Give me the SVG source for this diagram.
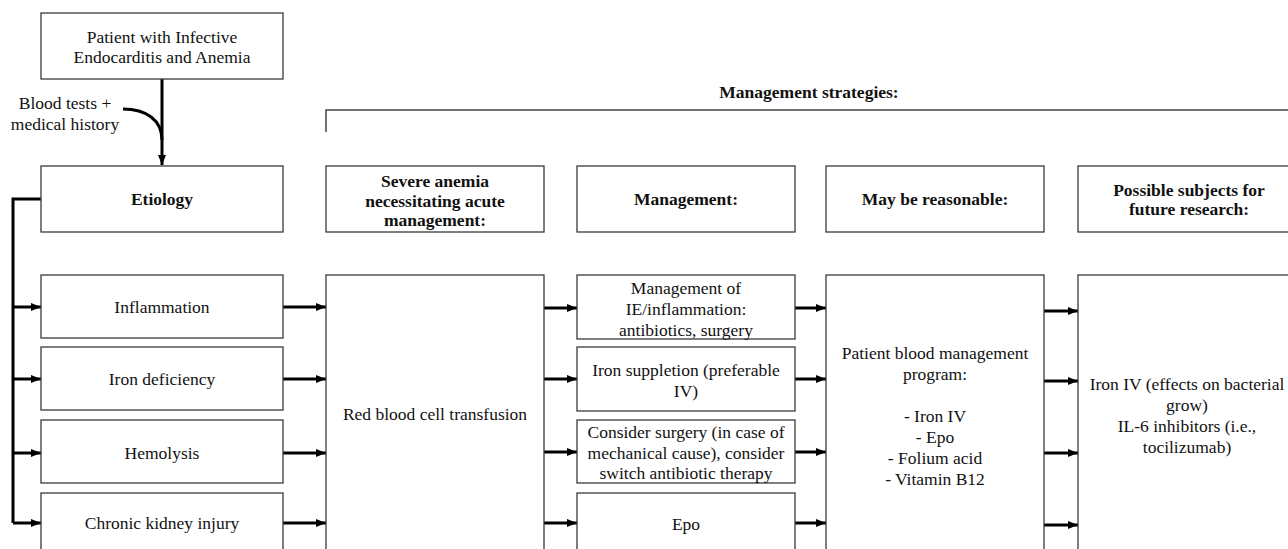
<svg xmlns="http://www.w3.org/2000/svg" width="1288" height="549" viewBox="0 0 1288 549">
<style>
  .box{fill:#fff;stroke:#3a3a3a;stroke-width:1.3}
  text{font-family:'Liberation Serif','Times New Roman',Tinos,'DejaVu Serif',serif;font-size:17.5px;fill:#111;text-anchor:middle}
  .b{font-weight:bold}
  .c{fill:none;stroke:#000;stroke-width:3}
</style>
<defs>
  <marker id="ah" markerUnits="userSpaceOnUse" markerWidth="10" markerHeight="10" viewBox="0 0 10 10" refX="10" refY="5" orient="auto">
    <path d="M0,1 L10,5 L0,9 Z" fill="#000"/>
  </marker>
</defs>
<rect width="1288" height="549" fill="#fff"/>

<g id="connectors">
  <path class="c" d="M162,79 L162,165" marker-end="url(#ah)"/>
  <path class="c" d="M123,109 C146,109 162,120 162,140"/>
  <path class="c" d="M41,199 L13,199 L13,523"/>
  <path class="c" d="M13,307 L41,307" marker-end="url(#ah)"/>
  <path class="c" d="M13,379 L41,379" marker-end="url(#ah)"/>
  <path class="c" d="M13,453 L41,453" marker-end="url(#ah)"/>
  <path class="c" d="M13,523 L41,523" marker-end="url(#ah)"/>
  <path class="c" d="M283,307 L326,307" marker-end="url(#ah)"/>
  <path class="c" d="M283,379 L326,379" marker-end="url(#ah)"/>
  <path class="c" d="M283,453 L326,453" marker-end="url(#ah)"/>
  <path class="c" d="M283,523 L326,523" marker-end="url(#ah)"/>
  <path class="c" d="M544,308 L577,308" marker-end="url(#ah)"/>
  <path class="c" d="M544,379 L577,379" marker-end="url(#ah)"/>
  <path class="c" d="M544,452 L577,452" marker-end="url(#ah)"/>
  <path class="c" d="M544,523 L577,523" marker-end="url(#ah)"/>
  <path class="c" d="M795,308 L826,308" marker-end="url(#ah)"/>
  <path class="c" d="M795,379 L826,379" marker-end="url(#ah)"/>
  <path class="c" d="M795,452 L826,452" marker-end="url(#ah)"/>
  <path class="c" d="M795,523 L826,523" marker-end="url(#ah)"/>
  <path class="c" d="M1044,311 L1078,311" marker-end="url(#ah)"/>
  <path class="c" d="M1044,381 L1078,381" marker-end="url(#ah)"/>
  <path class="c" d="M1044,453 L1078,453" marker-end="url(#ah)"/>
  <path class="c" d="M1044,525 L1078,525" marker-end="url(#ah)"/>
</g>

<text x="65" y="109">Blood tests +</text>
<text x="65" y="130">medical history</text>

<g id="strategies">
  <text class="b" x="809" y="98">Management strategies:</text>
  <path d="M326,132 L326,110 L1288,110" fill="none" stroke="#444" stroke-width="1.5"/>
</g>

<g id="patient"><rect class="box" x="41" y="13" width="242" height="66"/>
  <text x="162" y="43">Patient with Infective</text>
  <text x="162" y="63">Endocarditis and Anemia</text></g>

<g id="etiology"><rect class="box" x="41" y="166" width="242" height="66"/>
  <text class="b" x="162" y="205">Etiology</text></g>
<g id="severe"><rect class="box" x="326" y="166" width="218" height="66"/>
  <text class="b" x="435" y="187">Severe anemia</text>
  <text class="b" x="435" y="207">necessitating acute</text>
  <text class="b" x="435" y="226">management:</text></g>
<g id="management"><rect class="box" x="577" y="166" width="218" height="66"/>
  <text class="b" x="686" y="205">Management:</text></g>
<g id="reasonable"><rect class="box" x="826" y="166" width="218" height="66"/>
  <text class="b" x="935" y="205">May be reasonable:</text></g>
<g id="research"><rect class="box" x="1078" y="166" width="218" height="66"/>
  <text class="b" x="1189" y="196">Possible subjects for</text>
  <text class="b" x="1189" y="215">future research:</text></g>

<g id="inflammation"><rect class="box" x="41" y="275" width="242" height="63"/>
  <text x="162" y="313">Inflammation</text></g>
<g id="iron-deficiency"><rect class="box" x="41" y="347" width="242" height="63"/>
  <text x="162" y="385">Iron deficiency</text></g>
<g id="hemolysis"><rect class="box" x="41" y="420" width="242" height="63"/>
  <text x="162" y="459">Hemolysis</text></g>
<g id="ckd"><rect class="box" x="41" y="493" width="242" height="80"/>
  <text x="162" y="529">Chronic kidney injury</text></g>

<g id="transfusion"><rect class="box" x="326" y="275" width="218" height="300"/>
  <text x="435" y="420">Red blood cell transfusion</text></g>

<g id="mgmt-ie"><rect class="box" x="577" y="275" width="218" height="64"/>
  <text x="686" y="294">Management of</text>
  <text x="686" y="315">IE/inflammation:</text>
  <text x="686" y="336">antibiotics, surgery</text></g>
<g id="mgmt-iron"><rect class="box" x="577" y="347" width="218" height="64"/>
  <text x="686" y="376">Iron suppletion (preferable</text>
  <text x="686" y="397">IV)</text></g>
<g id="mgmt-surgery"><rect class="box" x="577" y="420" width="218" height="63"/>
  <text x="686" y="438">Consider surgery (in case of</text>
  <text x="686" y="459">mechanical cause), consider</text>
  <text x="686" y="479">switch antibiotic therapy</text></g>
<g id="mgmt-epo"><rect class="box" x="577" y="493" width="218" height="80"/>
  <text x="686" y="530">Epo</text></g>

<g id="pbm"><rect class="box" x="826" y="275" width="218" height="300"/>
  <text x="935" y="359">Patient blood management</text>
  <text x="935" y="380">program:</text>
  <text x="935" y="422">- Iron IV</text>
  <text x="935" y="443">- Epo</text>
  <text x="935" y="464">- Folium acid</text>
  <text x="935" y="485">- Vitamin B12</text></g>

<g id="future"><rect class="box" x="1078" y="275" width="218" height="300"/>
  <text x="1187" y="390">Iron IV (effects on bacterial</text>
  <text x="1187" y="411">grow)</text>
  <text x="1187" y="432">IL-6 inhibitors (i.e.,</text>
  <text x="1187" y="453">tocilizumab)</text></g>
</svg>
